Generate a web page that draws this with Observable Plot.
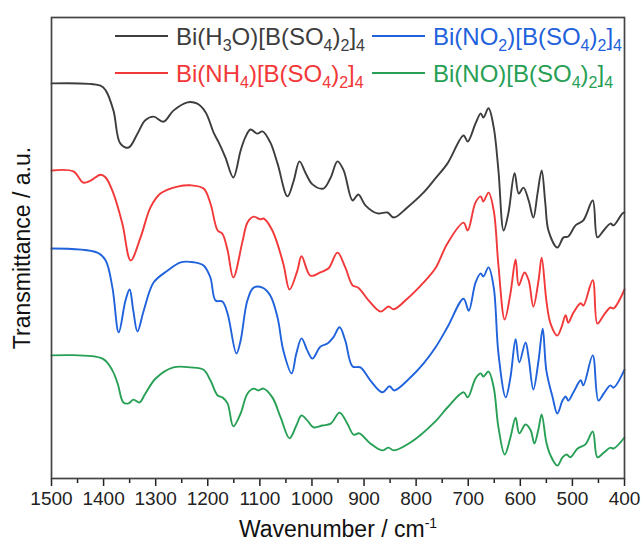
<!DOCTYPE html>
<html><head><meta charset="utf-8">
<script src="https://cdn.jsdelivr.net/npm/d3@7"></script>
<script src="https://cdn.jsdelivr.net/npm/@observablehq/plot@0.6"></script>
<style>body{margin:0;background:#fff} #chart{width:642px;height:547px}</style>
</head><body><div id="chart"></div>
<script>
// Series labels (digits rendered as subscripts) and colours
const seriesLabels = ["Bi(H3O)[B(SO4)2]4", "Bi(NO2)[B(SO4)2]4", "Bi(NH4)[B(SO4)2]4", "Bi(NO)[B(SO4)2]4"];
const seriesColors = ["#3d3d3d", "#1f62dc", "#f23838", "#27a055"];
const majorTicks = [1500, 1400, 1300, 1200, 1100, 1000, 900, 800, 700, 600, 500, 400];
const minorTicks = [1450, 1350, 1250, 1150, 1050, 950, 850, 750, 650, 550, 450];
const xLabel = "Wavenumber / cm";
const xLabelSup = "-1";
const yLabel = "Transmittance / a.u.";

// [wavenumber (cm-1), transmittance (a.u., offset stacked)]
const h3oSpectrum = [[1500,85.7],[1406,85.2],[1396,84.2],[1381,79.8],[1368,72.7],[1352,71.8],[1335,74.8],[1320,77.7],[1304,78.5],[1285,77.4],[1266,79.8],[1239,81.6],[1220,81.3],[1204,79.4],[1189,75.1],[1179,72.9],[1166,69.6],[1151,65.3],[1137,71.1],[1128,74.0],[1118,75.7],[1105,74.8],[1095,75.3],[1080,72.9],[1066,68.3],[1047,61.2],[1035,64.6],[1024,68.8],[1012,66.2],[999,63.8],[978,62.9],[964,65.3],[951,68.8],[939,66.8],[922,60.3],[911,61.6],[897,59.2],[874,57.5],[855,57.7],[843,56.6],[817,58.8],[786,62.0],[763,65.1],[740,68.3],[709,74.4],[701,73.1],[686,77.0],[676,79.2],[671,78.3],[661,80.3],[651,76.1],[642,66.8],[632,53.8],[623,57.5],[611,66.2],[603,61.8],[594,63.1],[584,60.3],[575,56.6],[567,61.8],[559,66.8],[552,59.7],[546,53.8],[529,50.1],[517,52.3],[508,52.5],[494,54.9],[479,56.0],[461,60.3],[452,52.3],[440,53.8],[427,55.3],[421,54.9],[404,57.5],[400,57.7]];
const nh4Spectrum = [[1500,66.8],[1458,66.6],[1439,64.2],[1425,64.6],[1406,65.9],[1396,65.3],[1381,61.8],[1364,55.3],[1348,47.3],[1329,52.3],[1310,58.8],[1291,61.8],[1258,63.3],[1233,63.6],[1208,62.9],[1195,59.7],[1181,53.8],[1172,53.1],[1162,49.5],[1151,43.6],[1133,51.6],[1124,55.5],[1112,56.8],[1099,56.2],[1093,56.4],[1076,53.8],[1055,46.6],[1043,41.0],[1028,45.1],[1020,48.2],[1003,44.0],[984,44.7],[968,45.6],[951,49.0],[936,45.8],[922,41.9],[911,41.4],[891,38.6],[868,36.2],[853,37.3],[843,36.7],[817,39.0],[786,42.5],[763,45.6],[740,51.0],[709,55.5],[701,53.8],[686,59.9],[676,61.2],[671,60.1],[661,62.0],[651,58.1],[642,46.2],[630,34.5],[619,40.1],[609,47.5],[603,41.9],[592,44.7],[584,43.0],[575,37.3],[565,43.0],[559,47.9],[550,38.6],[542,33.6],[529,31.0],[521,32.8],[513,35.4],[508,33.8],[498,36.0],[484,38.0],[479,37.5],[461,43.0],[452,33.6],[440,35.4],[427,37.1],[421,36.9],[400,41.0]];
const no2Spectrum = [[1500,49.9],[1412,49.0],[1396,47.3],[1383,41.4],[1371,31.7],[1358,38.6],[1350,41.0],[1343,36.4],[1335,31.9],[1323,36.4],[1304,42.5],[1277,45.1],[1252,46.9],[1227,46.9],[1208,46.2],[1195,43.6],[1185,38.6],[1172,38.4],[1162,35.8],[1145,27.1],[1137,29.9],[1124,38.6],[1112,41.4],[1095,41.4],[1080,39.7],[1066,34.9],[1055,27.8],[1039,22.8],[1030,27.1],[1020,30.4],[1009,27.8],[999,26.0],[984,28.6],[970,29.3],[959,30.6],[947,32.8],[936,29.9],[922,24.3],[907,24.1],[888,21.3],[865,18.7],[851,20.0],[842,19.1],[811,21.9],[786,24.9],[763,28.4],[740,32.8],[709,39.0],[699,36.4],[686,42.5],[676,44.5],[671,43.8],[661,45.8],[651,41.4],[642,27.1],[628,17.6],[619,21.9],[609,30.2],[602,25.2],[590,29.5],[584,26.2],[575,19.3],[565,25.6],[557,32.5],[550,23.4],[538,17.6],[529,14.1],[519,16.9],[513,17.8],[508,16.9],[498,18.7],[484,21.3],[479,20.2],[461,26.7],[450,16.9],[440,18.4],[427,20.2],[421,19.7],[400,23.6]];
const noSpectrum = [[1500,26.7],[1402,26.0],[1383,23.4],[1373,20.6],[1362,16.5],[1352,16.3],[1343,17.1],[1331,16.5],[1320,18.4],[1300,21.7],[1266,24.1],[1233,24.1],[1208,23.6],[1195,21.3],[1181,18.0],[1172,17.6],[1162,16.3],[1151,11.3],[1137,14.1],[1124,18.4],[1112,19.5],[1103,19.1],[1093,19.5],[1076,17.6],[1060,13.2],[1043,8.7],[1030,11.5],[1020,13.7],[1009,12.6],[997,11.1],[980,11.5],[964,11.9],[947,14.3],[932,11.9],[920,9.5],[909,9.8],[888,7.6],[865,6.1],[853,6.7],[843,6.1],[811,7.8],[763,12.4],[740,15.4],[709,18.7],[701,17.6],[686,21.7],[676,22.8],[671,22.1],[661,23.2],[651,19.7],[642,11.1],[630,5.2],[619,8.9],[609,13.2],[602,9.8],[590,11.7],[580,10.4],[573,7.6],[565,10.8],[559,13.9],[550,7.8],[542,5.0],[529,2.8],[519,4.6],[511,5.2],[504,4.6],[490,6.5],[475,7.4],[461,10.2],[452,4.6],[440,5.6],[427,6.7],[421,6.5],[400,8.9]];

const spectra = [h3oSpectrum, no2Spectrum, nh4Spectrum, noSpectrum];

const W = 642, H = 547;
const mL = 51, mR = 18, mT = 17, mB = 69;
const font = "'Liberation Sans', Arial, sans-serif";

const plot = Plot.plot({
  width: W, height: H,
  marginLeft: mL, marginRight: mR, marginTop: mT, marginBottom: mB,
  style: {fontFamily: font, fontSize: "19px", color: "#222", background: "#fff"},
  x: {domain: [1500, 400], label: null},
  y: {domain: [0, 100], axis: null},
  marks: [
    ...spectra.map((s, i) => Plot.line(s, {x: d => d[0], y: d => d[1], stroke: seriesColors[i], strokeWidth: 1.9, curve: "catmull-rom"})),
    Plot.axisX({ticks: majorTicks, tickFormat: d => String(d), tickSize: 8, tickPadding: 5, fontSize: 19, label: null, color: "#222", strokeWidth: 1.5}),
    Plot.axisX({ticks: minorTicks, tickFormat: () => "", tickSize: 5, label: null, color: "#222", strokeWidth: 1.5}),
    Plot.frame({stroke: "#444", strokeWidth: 1.7})
  ]
});
document.getElementById("chart").appendChild(plot);

const svg = d3.select(plot);
// x-axis title with superscript
const xt = svg.append("text").attr("x", 338).attr("y", 537).attr("text-anchor", "middle")
  .attr("font-family", font).attr("font-size", 23).attr("fill", "#111");
xt.append("tspan").text(xLabel);
xt.append("tspan").attr("dy", -9).attr("font-size", 14).text(xLabelSup);
// y-axis title
svg.append("text").attr("transform", "translate(30,248) rotate(-90)").attr("text-anchor", "middle")
  .attr("font-family", font).attr("font-size", 23).attr("fill", "#111").text(yLabel);

// legend (inside the frame, two rows by two columns)
const legendPos = [[115, 36], [372, 36], [115, 73], [372, 73]];
seriesLabels.forEach((lab, i) => {
  const [lx, ly] = legendPos[i];
  const c = seriesColors[i];
  svg.append("line").attr("x1", lx).attr("x2", lx + 53).attr("y1", ly).attr("y2", ly)
    .attr("stroke", c).attr("stroke-width", 2);
  const t = svg.append("text").attr("x", lx + 61).attr("y", ly + 8.5).attr("text-anchor", "start")
    .attr("font-family", font).attr("font-size", 24).attr("fill", c);
  const parts = lab.match(/\d+|[^\d]+/g);
  let sub = false;
  parts.forEach(p => {
    const isD = /^\d+$/.test(p);
    const ts = t.append("tspan").text(p);
    if (isD && !sub) { ts.attr("dy", 6).attr("font-size", 16); sub = true; }
    else if (isD && sub) { ts.attr("font-size", 16); }
    else if (!isD && sub) { ts.attr("dy", -6); sub = false; }
  });
});
</script></body></html>
